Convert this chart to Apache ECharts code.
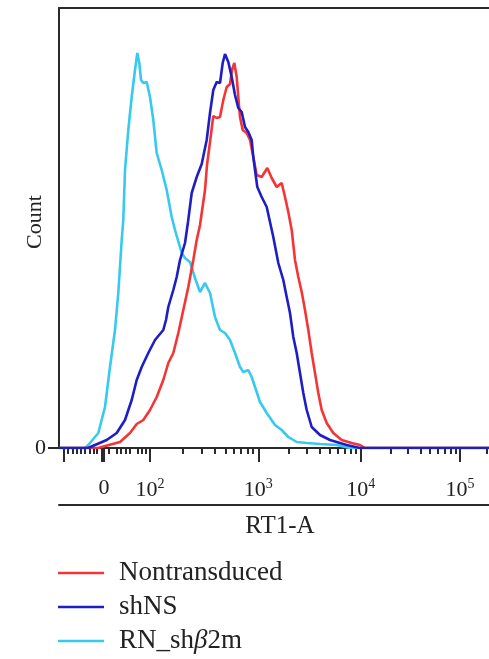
<!DOCTYPE html>
<html>
<head>
<meta charset="utf-8">
<script src="https://cdn.jsdelivr.net/npm/echarts@6/dist/echarts.min.js"></script>
<style>html,body{margin:0;padding:0;background:#fff;}#c{width:489px;height:659px;}</style>
</head>
<body>
<div id="c"></div>
<script>
// x: display channel on the biexponential RT1-A scale (0..430), y: event count
var seriesNames = ['Nontransduced', 'shNS', 'RN_shβ2m'];

var redX = [0,39,41,61,71,77.7,84.3,91,97.7,104.3,109.3,114.3,119.3,124.3,129.3,134.3,137.7,141,146,148,151,154.3,157.7,161,164.3,167.7,171,173,175.3,177.7,179.3,181,183.7,187.7,191,194.3,197.7,202.7,208.3,212.7,217.7,222.7,226,229.3,232.7,236,239.3,242.7,246,249.3,252.7,256,259.3,262.7,267.7,274.3,282.7,292.7,301,306,430];
var redY = [0,0,1,6,15,24,28,38,51,68,85,95,115,138,161,188,208,223,258,283,306,332,330,331,348,361,364,378,385,371,351,331,318,315,308,291,273,271,280,270,261,265,251,236,218,188,171,156,138,118,95,75,55,38,25,15,8,5,3,0,0];

var blueX = [0,29,31,47.7,57.7,66,72.7,77.7,82.7,89.3,96,104.3,107,109.3,114.3,117.7,121,126,129,132.7,137.7,142.7,147.7,151,154.3,157.7,161,163.7,166,169.3,172.7,176,179.3,182.7,186,189.3,192.7,194.3,196,198.3,202.7,207.7,211,214.3,219.3,224.3,227.7,231,234.3,237.7,241,244.3,247.7,252.7,261,271,281,287.7,301,430];
var blueY = [0,0,1,8,15,28,48,68,81,95,108,118,128,141,158,171,188,205,226,255,271,284,308,335,358,366,365,385,394,386,371,353,340,336,321,316,308,291,278,261,251,241,226,211,185,168,151,135,111,95,75,55,38,21,13,8,5,3,0,0];

var cyanX = [0,26,29.3,39.3,46,51,56,59.3,62.7,64.3,66,69.3,72.7,76,78.3,80.3,82,84.3,87.7,91,94.3,97.7,102.7,107.7,112.7,116,122.7,126,131,136,141,146,151,156,161,166,171,176,181,184.3,189.3,192.7,196,201,207.7,216,222.7,229.3,237.7,247.7,261,277.7,291,430];
var cyanY = [0,0,3,15,41,81,118,155,208,228,278,318,351,378,395,385,368,365,366,351,328,295,278,258,231,218,195,190,186,170,156,165,155,131,118,115,108,95,81,76,78,71,61,46,35,23,18,11,6,5,4,3,0,0];

// axis ticks (display channel) and labels
var tickLabelPos = [45, 91, 199.3, 301.7, 401];
var tickLabels = ['0', '10^2', '10^3', '10^4', '10^5'];
var majorTickPos = [4.3, 42.7, 45, 91, 199.3, 301.7, 401];
var minorTickPos = [9, 13.7, 17.7, 21.7, 25.3, 30.3, 34.3, 37.7, 50, 57.7, 61.7, 67, 71, 78.3, 82.7, 87, 124, 142.5, 156, 166.5, 175, 182, 188.5, 194, 230, 248, 261, 271, 279, 286, 292, 297, 331.6, 349, 361.5, 371, 379, 385.6, 391.3, 396.5, 428];

var colors = ['#f53535', '#1e1ec4', '#38c9ef'];
var serif = '"Liberation Serif", "DejaVu Serif", serif';

function pairs(xs, ys) { return xs.map(function (x, i) { return [x, ys[i]]; }); }

function fmtTick(v) {
  var best = 0, d = 1e9;
  for (var i = 0; i < tickLabelPos.length; i++) {
    var dd = Math.abs(tickLabelPos[i] - v);
    if (dd < d) { d = dd; best = i; }
  }
  var t = tickLabels[best];
  if (t.indexOf('^') < 0) return '{b|' + t + '}';
  var p = t.split('^');
  return '{b|' + p[0] + '}{s|' + p[1] + '}';
}

var chart = echarts.init(document.getElementById('c'), null, { renderer: 'canvas' });
var axisColor = '#2a2a2a';
chart.setOption({
  animation: false,
  backgroundColor: '#fff',
  grid: { left: 59, right: 0, top: 8, bottom: 211, containLabel: false, outerBoundsMode: 'none' },
  legend: {
    data: seriesNames,
    orient: 'vertical',
    left: 58,
    top: 556,
    height: 110,
    padding: 0,
    icon: 'rect',
    itemWidth: 46,
    itemHeight: 2.5,
    itemGap: 0,
    textStyle: {
      fontFamily: serif, fontSize: 27, color: '#222', lineHeight: 34, padding: [0, 0, 0, 10],
      rich: {
        n: { fontFamily: serif, fontSize: 27, color: '#222', lineHeight: 34 },
        i: { fontFamily: serif, fontSize: 27, color: '#222', fontStyle: 'italic', lineHeight: 34 }
      }
    },
    formatter: function (name) {
      if (name.indexOf('β') >= 0) {
        var p = name.split('β');
        return '{n|' + p[0] + '}{i|β}{n|' + p[1] + '}';
      }
      return name;
    }
  },
  xAxis: [
    {
      type: 'value', min: 0, max: 430, position: 'bottom',
      axisLine: { show: true, onZero: false, lineStyle: { color: axisColor, width: 2 } },
      axisTick: { show: true, customValues: majorTickPos, length: 14, inside: false, lineStyle: { color: axisColor, width: 2 } },
      axisLabel: {
        show: true, customValues: tickLabelPos, margin: 29, formatter: fmtTick,
        rich: {
          b: { fontFamily: serif, fontSize: 22, color: '#222' },
          s: { fontFamily: serif, fontSize: 14, color: '#222', padding: [0, 0, 12, 0] }
        }
      },
      splitLine: { show: false }
    },
    {
      type: 'value', min: 0, max: 430, position: 'bottom',
      axisLine: { show: false },
      axisTick: { show: true, customValues: minorTickPos, length: 6, lineStyle: { color: axisColor, width: 2 } },
      axisLabel: { show: false },
      splitLine: { show: false }
    },
    {
      type: 'value', min: 0, max: 430, position: 'top',
      axisLine: { show: true, onZero: false, lineStyle: { color: axisColor, width: 2 } },
      axisTick: { show: false }, axisLabel: { show: false }, splitLine: { show: false }
    },
    {
      type: 'value', min: 0, max: 430, position: 'bottom', offset: 57,
      name: 'RT1-A', nameLocation: 'middle', nameGap: 9, nameMoveOverlap: false,
      nameTextStyle: { fontFamily: serif, fontSize: 25, color: '#222', verticalAlign: 'top', padding: [0, 0, 0, 12] },
      axisLine: { show: true, onZero: false, lineStyle: { color: axisColor, width: 2 } },
      axisTick: { show: false }, axisLabel: { show: false }, splitLine: { show: false }
    }
  ],
  yAxis: {
    type: 'value', min: 0, max: 440,
    name: 'Count', nameLocation: 'middle', nameGap: 13, nameMoveOverlap: false,
    nameTextStyle: { fontFamily: serif, fontSize: 22, color: '#222', verticalAlign: 'bottom', padding: [0, 0, 0, 12] },
    axisLine: { show: true, onZero: false, lineStyle: { color: axisColor, width: 2 } },
    axisTick: { show: true, customValues: [0], length: 11, lineStyle: { color: axisColor, width: 2 } },
    axisLabel: { show: true, customValues: [0], margin: 13, fontFamily: serif, fontSize: 22, color: '#222' },
    splitLine: { show: false }
  },
  series: [
    { name: seriesNames[2], type: 'line', data: pairs(cyanX, cyanY), showSymbol: false, lineStyle: { color: colors[2], width: 2.6 }, itemStyle: { color: colors[2] }, z: 2 },
    { name: seriesNames[0], type: 'line', data: pairs(redX, redY), showSymbol: false, lineStyle: { color: colors[0], width: 2.6 }, itemStyle: { color: colors[0] }, z: 3 },
    { name: seriesNames[1], type: 'line', data: pairs(blueX, blueY), showSymbol: false, lineStyle: { color: colors[1], width: 2.6 }, itemStyle: { color: colors[1] }, z: 4 }
  ]
});
</script>
</body>
</html>
